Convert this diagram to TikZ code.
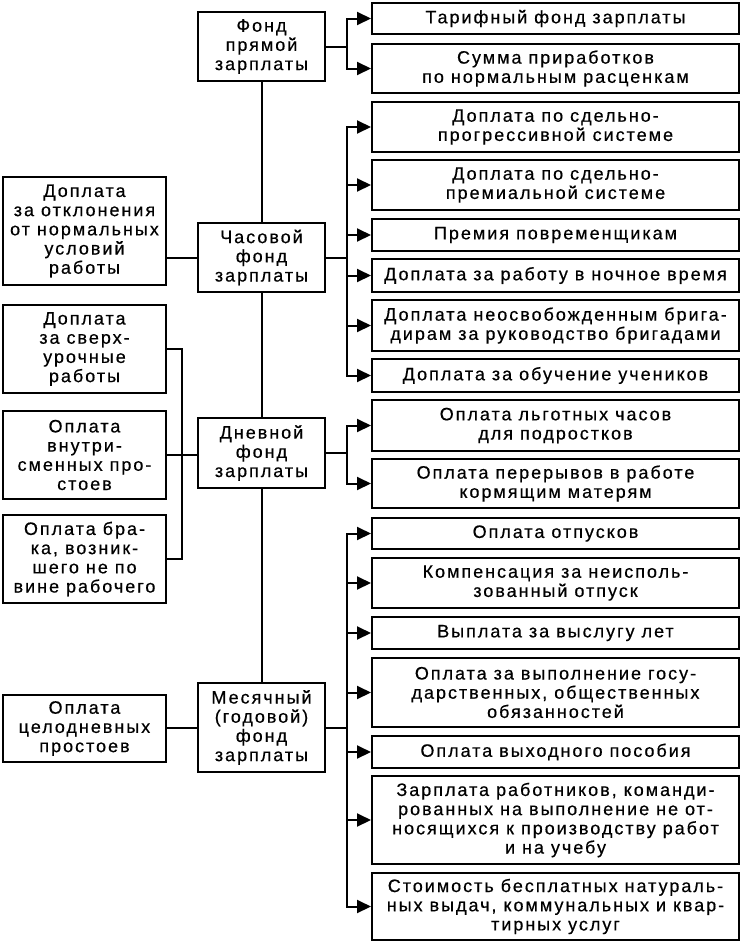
\documentclass[tikz,border=0pt]{standalone}
\usepackage{fontspec}
\setmainfont[LetterSpace=11,FakeBold=0.5]{Liberation Sans}
\usetikzlibrary{arrows.meta}
\begin{document}
\begin{tikzpicture}[x=1pt,y=-1pt,
  box/.style={draw, line width=2pt, inner sep=0pt, align=center, font=\fontsize{18}{19.2}\selectfont},
  rbox/.style={box, minimum width=367pt},
  lbox/.style={box, minimum width=163pt},
  cbox/.style={box, minimum width=127pt},
  ln/.style={line width=2pt},
  arr/.style={ln, -{Triangle[length=14pt,width=13pt]}}]
\useasboundingbox (0,0) rectangle (742,945);

% centre column
\node[cbox, minimum height=69pt] (fA) at (261.5,46.5) {Фонд\\прямой\\зарплаты};
\node[cbox, minimum height=69pt] (fB) at (261.5,257.5) {Часовой\\фонд\\зарплаты};
\node[cbox, minimum height=70pt] (fC) at (261.5,453) {Дневной\\фонд\\зарплаты};
\node[cbox, minimum height=89pt] (fD) at (261.5,727.5) {Месячный\\(годовой)\\фонд\\зарплаты};

% left column
\node[lbox, minimum height=108pt] (l1) at (84.5,231) {Доплата\\за отклонения\\от нормальных\\условий\\работы};
\node[lbox, minimum height=88pt] (l2) at (84.5,349) {Доплата\\за сверх-\\урочные\\работы};
\node[lbox, minimum height=88pt] (l3) at (84.5,455) {Оплата\\внутри-\\сменных про-\\стоев};
\node[lbox, minimum height=88pt] (l4) at (84.5,559) {Оплата бра-\\ка, возник-\\шего не по\\вине рабочего};
\node[lbox, minimum height=67pt] (l5) at (84.5,728.5) {Оплата\\целодневных\\простоев};

% right column
\node[rbox, minimum height=31pt] (r1) at (555.5,18.5) {Тарифный фонд зарплаты};
\node[rbox, minimum height=49pt] (r2) at (555.5,68.5) {Сумма приработков\\по нормальным расценкам};
\node[rbox, minimum height=50pt] (r3) at (555.5,127) {Доплата по сдельно-\\прогрессивной системе};
\node[rbox, minimum height=50pt] (r4) at (555.5,185) {Доплата по сдельно-\\премиальной системе};
\node[rbox, minimum height=32pt] (r5) at (555.5,235) {Премия повременщикам};
\node[rbox, minimum height=33pt] (r6) at (555.5,275.5) {Доплата за работу в ночное время};
\node[rbox, minimum height=51pt] (r7) at (555.5,325.5) {Доплата неосвобожденным брига-\\дирам за руководство бригадами};
\node[rbox, minimum height=33pt] (r8) at (555.5,375.5) {Доплата за обучение учеников};
\node[rbox, minimum height=51pt] (r9) at (555.5,425.5) {Оплата льготных часов\\для подростков};
\node[rbox, minimum height=49pt] (r10) at (555.5,483.5) {Оплата перерывов в работе\\кормящим матерям};
\node[rbox, minimum height=31pt] (r11) at (555.5,533.5) {Оплата отпусков};
\node[rbox, minimum height=50pt] (r12) at (555.5,583) {Компенсация за неисполь-\\зованный отпуск};
\node[rbox, minimum height=32pt] (r13) at (555.5,633) {Выплата за выслугу лет};
\node[rbox, minimum height=69pt] (r14) at (555.5,692.5) {Оплата за выполнение госу-\\дарственных, общественных\\обязанностей};
\node[rbox, minimum height=32pt] (r15) at (555.5,752) {Оплата выходного пособия};
\node[rbox, minimum height=88pt] (r16) at (555.5,820) {Зарплата работников, команди-\\рованных на выполнение не от-\\носящихся к производству работ\\и на учебу};
\node[rbox, minimum height=67pt] (r17) at (555.5,906.5) {Стоимость бесплатных натураль-\\ных выдач, коммунальных и квар-\\тирных услуг};

% vertical spine
\draw[ln] (fA.south) -- (fB.north);
\draw[ln] (fB.south) -- (fC.north);
\draw[ln] (fC.south) -- (fD.north);

% right branches
\foreach \r in {r1,r2} \draw[arr] (fA.east) -- ++(21,0) |- (\r.west);
\foreach \r in {r3,r4,r5,r6,r7,r8} \draw[arr] (fB.east) -- ++(21,0) |- (\r.west);
\foreach \r in {r9,r10} \draw[arr] (fC.east) -- ++(21,0) |- (\r.west);
\foreach \r in {r11,r12,r13,r14,r15,r16,r17} \draw[arr] (fD.east) -- ++(21,0) |- (\r.west);

% left branches
\coordinate (bk) at (182,0);
\draw[ln] (fB.west) -- (fB.west -| l1.east);
\draw[ln] (l2.east) -- (l2.east -| bk) -- (l4.east -| bk) -- (l4.east);
\draw[ln] (l3.east) -- (l3.east -| fC.west);
\draw[ln] (fD.west) -- (fD.west -| l5.east);
\end{tikzpicture}
\end{document}
